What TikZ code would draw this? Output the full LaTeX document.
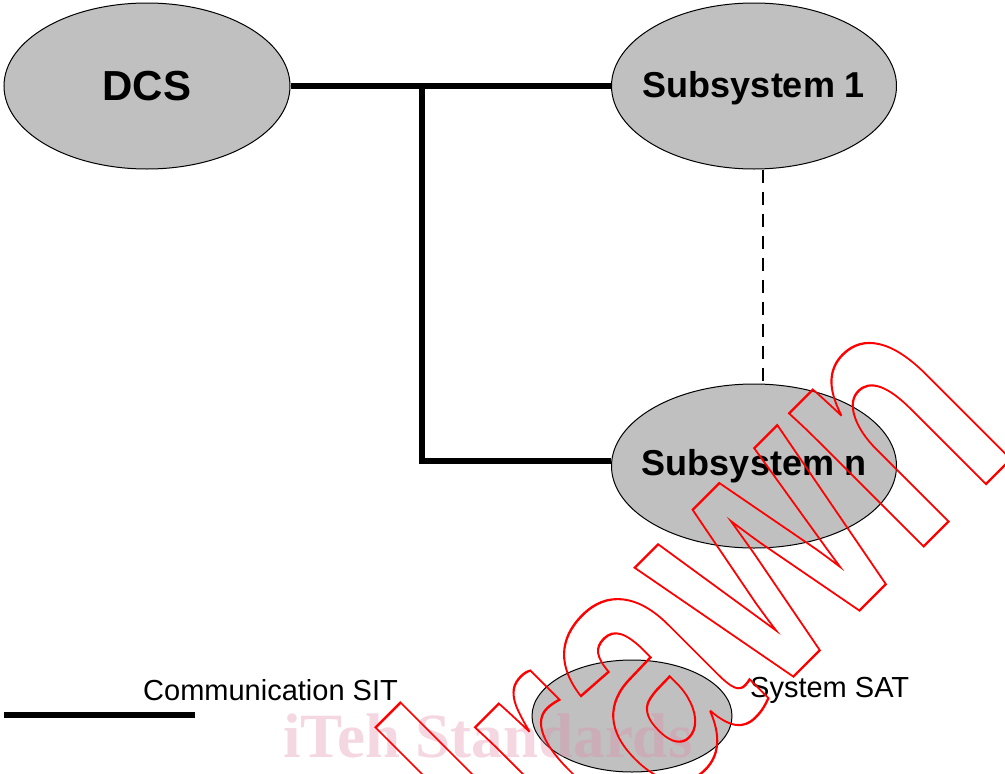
\documentclass[tikz,border=0pt]{standalone}
\usepackage{fontspec}
\setmainfont{Liberation Sans}
\newfontfamily\stampserif{Liberation Serif}
\usetikzlibrary{shapes.geometric}
\definecolor{sysgray}{RGB}{192,192,192}
\definecolor{stamppink}{RGB}{225,140,168}
% outlined (stroked, unfilled) text for the stamp
\newcommand{\outlinetext}[1]{\special{pdf:literal direct 1 Tr 2.4 w}#1\special{pdf:literal direct 0 Tr}}
\begin{document}
\begin{tikzpicture}[x=1pt,y=-1pt,
  sysnode/.style={ellipse, draw=black, line width=1pt, fill=sysgray, inner sep=0pt},
  systext/.style={inner sep=0pt, font=\bfseries\fontsize{36}{40}\selectfont},
  link/.style={line width=6pt},
  optlink/.style={line width=2pt, dash pattern=on 13pt off 9pt},
  legendtext/.style={anchor=west, inner sep=0pt, font=\fontsize{29}{32}\selectfont}]
\useasboundingbox (0,0) rectangle (1005,774);

% systems
\node[sysnode, minimum width=286pt, minimum height=166pt] (dcs) at (147,86) {};
\node[systext, font=\bfseries\fontsize{42}{46}\selectfont] (dcst) at (dcs) {DCS};
\node[sysnode, minimum width=285pt, minimum height=166pt] (s1) at (754,86) {};
\node[systext] (s1t) at ([yshift=-2pt]s1) {Subsystem 1};
\node[sysnode, minimum width=285pt, minimum height=164pt] (sn) at (754,466) {};
\node[systext] (snt) at (sn) {Subsystem n};

% communication links
\coordinate (j) at (422,86);
\draw[link] (dcs.east) -- (s1.west);
\draw[link] (j) |- ([yshift=5pt]sn.west);
\coordinate (d1) at ([xshift=9pt]s1.south);
\draw[optlink] (d1) -- (d1 |- sn.north);

% legend
\coordinate (l1) at (4,715);
\coordinate (l2) at (195,715);
\draw[link] (l1) -- (l2);
\node[legendtext] (lc) at (143,690) {Communication SIT};
\node[sysnode, minimum width=200pt, minimum height=112pt] (sat) at (632,716) {};
\node[legendtext] (ls) at (750,690) {System SAT};

% stamp
\node[anchor=base, inner sep=0pt, text=stamppink, opacity=0.35,
  font=\stampserif\bfseries\fontsize{63}{63}\selectfont] (std) at (488,757) {iTeh Standards};
\node[transform shape, rotate=45, xscale=0.72, anchor=base east, inner sep=0pt, text=red,
  font=\bfseries\fontsize{358}{358}\selectfont] (wd) at (1022,448) {\outlinetext{Withdrawn}};
\end{tikzpicture}
\end{document}
